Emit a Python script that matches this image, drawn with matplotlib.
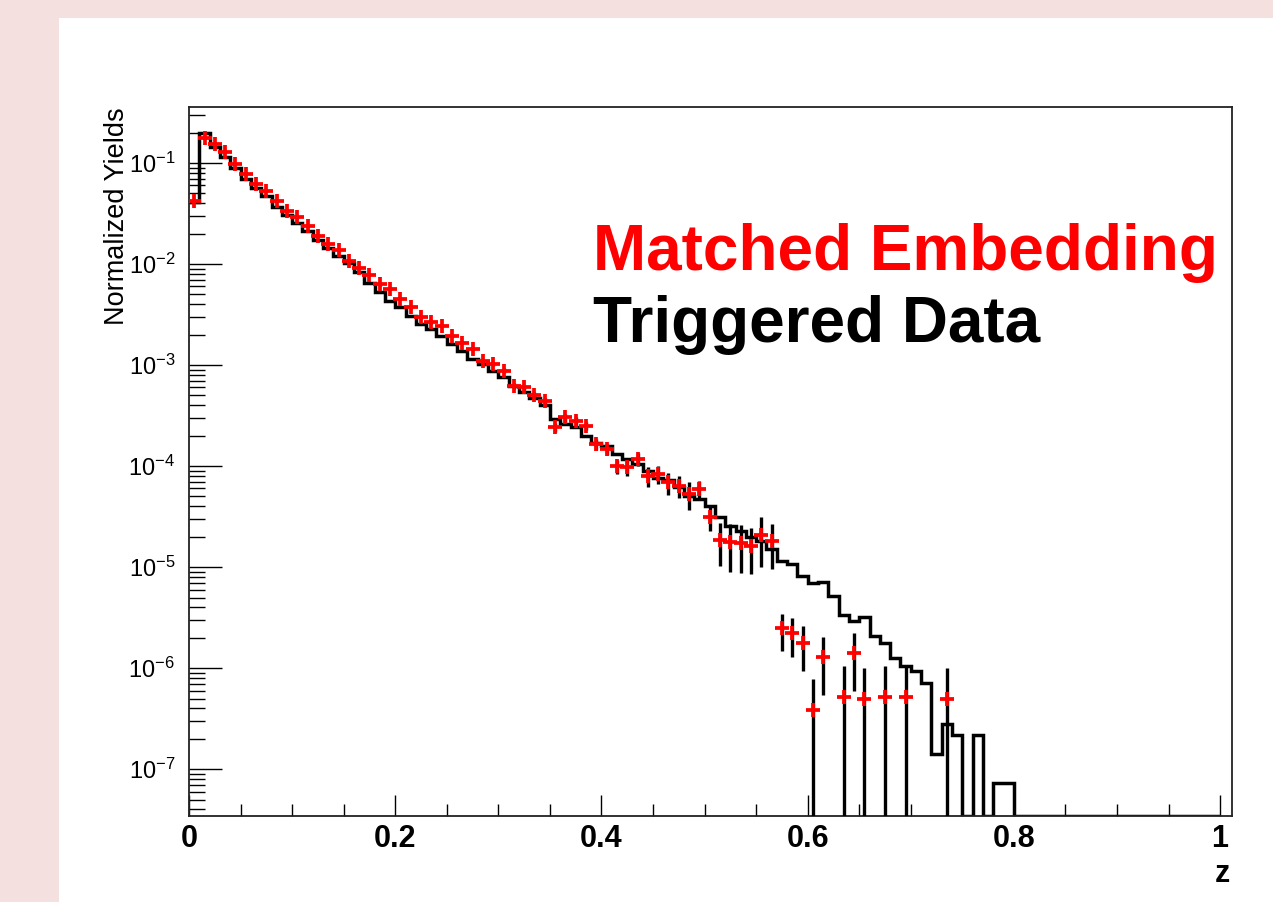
import numpy as np
import matplotlib.pyplot as plt
from matplotlib.patches import Rectangle
from matplotlib.ticker import LogLocator, MultipleLocator, NullFormatter, FixedLocator

plt.rcParams['font.family'] = ['Liberation Sans', 'DejaVu Sans']

# z bins: 100 bins of width 0.01 between 0 and 1
z_edges = np.linspace(0.0, 1.0, 101)

# triggered data histogram (black line), one value per bin, 0 = empty bin
data_yield = [
    4.1e-2, 2.0e-1, 1.43e-1, 1.14e-1, 8.9e-2, 7.0e-2, 5.7e-2, 4.7e-2, 3.7e-2, 3.05e-2,
    2.55e-2, 2.1e-2, 1.74e-2, 1.43e-2, 1.21e-2, 1.02e-2, 8.3e-3, 6.5e-3, 5.25e-3, 4.34e-3,
    3.72e-3, 3.08e-3, 2.55e-3, 2.27e-3, 1.95e-3, 1.61e-3, 1.39e-3, 1.15e-3, 1.02e-3, 8.8e-4,
    7.55e-4, 6.24e-4, 5.36e-4, 4.68e-4, 3.98e-4, 2.92e-4, 2.61e-4, 2.42e-4, 2.0e-4, 1.71e-4,
    1.59e-4, 1.32e-4, 1.17e-4, 1.05e-4, 9.0e-5, 7.7e-5, 7.2e-5, 6.15e-5, 5.08e-5, 4.71e-5,
    4.05e-5, 3.1e-5, 2.56e-5, 2.29e-5, 1.97e-5, 1.82e-5, 1.51e-5, 1.16e-5, 1.07e-5, 8.2e-6,
    6.9e-6, 7.2e-6, 5.2e-6, 3.39e-6, 2.94e-6, 3.24e-6, 2.07e-6, 1.76e-6, 1.26e-6, 1.05e-6,
    9.4e-7, 7.2e-7, 1.4e-7, 2.8e-7, 2.2e-7, 0, 2.2e-7, 0, 7.3e-8, 7.3e-8,
    0, 0, 0, 0, 0, 0, 0, 0, 0, 0,
    0, 0, 0, 0, 0, 0, 0, 0, 0, 0,
]

# matched embedding points (red crosses), bins 0..73, nan = no entry
nan = np.nan
emb_yield = [
    4.24e-2, 1.76e-1, 1.54e-1, 1.28e-1, 9.8e-2, 7.8e-2, 6.2e-2, 5.3e-2, 4.24e-2, 3.37e-2,
    2.9e-2, 2.39e-2, 1.9e-2, 1.58e-2, 1.36e-2, 1.08e-2, 9.2e-3, 7.8e-3, 6.3e-3, 5.65e-3,
    4.5e-3, 3.72e-3, 2.96e-3, 2.64e-3, 2.45e-3, 1.95e-3, 1.67e-3, 1.44e-3, 1.1e-3, 1.02e-3,
    8.8e-4, 6.2e-4, 6.0e-4, 5.1e-4, 4.4e-4, 2.42e-4, 3.03e-4, 2.81e-4, 2.5e-4, 1.65e-4,
    1.47e-4, 1.0e-4, 9.7e-5, 1.17e-4, 8.0e-5, 8.3e-5, 6.9e-5, 6.4e-5, 5.3e-5, 5.9e-5,
    3.1e-5, 1.87e-5, 1.78e-5, 1.75e-5, 1.63e-5, 2.07e-5, 1.82e-5, 2.47e-6, 2.21e-6, 1.78e-6,
    3.9e-7, 1.3e-6, nan, 5.2e-7, 1.41e-6, 5.0e-7, nan, 5.2e-7, nan, 5.2e-7,
    nan, nan, nan, 5.0e-7,
]
# relative errors of the embedding points
emb_relerr = [
    0.03, 0.03, 0.03, 0.03, 0.03, 0.03, 0.03, 0.03, 0.03, 0.03,
    0.03, 0.03, 0.03, 0.03, 0.03, 0.03, 0.03, 0.03, 0.03, 0.03,
    0.03, 0.03, 0.03, 0.03, 0.03, 0.03, 0.03, 0.03, 0.03, 0.04,
    0.05, 0.06, 0.06, 0.07, 0.07, 0.10, 0.09, 0.10, 0.10, 0.12,
    0.13, 0.16, 0.18, 0.15, 0.22, 0.20, 0.25, 0.25, 0.30, 0.22,
    0.27, 0.45, 0.50, 0.50, 0.48, 0.52, 0.47, 0.40, 0.42, 0.47,
    1.0, 0.58, nan, 1.0, 0.58, 1.0, nan, 1.0, nan, 1.0,
    nan, nan, nan, 1.0,
]

x_ticks = [0, 0.2, 0.4, 0.6, 0.8, 1.0]
x_tick_labels = ['0', '0.2', '0.4', '0.6', '0.8', '1']
y_ticks = [1e-7, 1e-6, 1e-5, 1e-4, 1e-3, 1e-2, 1e-1]

ymin, ymax = 3.47e-8, 0.36

fig = plt.figure(figsize=(12.73, 9.02), dpi=100, facecolor='#f5e0e0')
fig.add_artist(Rectangle((59 / 1273, 0), 1, 884 / 902, transform=fig.transFigure,
                         facecolor='white', edgecolor='none', zorder=-1))
ax = fig.add_axes([0.1485, 0.0957, 0.8191, 0.786])
ax.set_yscale('log')

# histogram; empty bins sit on the bottom of the frame like in ROOT
h = np.array(data_yield)
ax.stairs(np.where(h > 0, h, ymin), z_edges, baseline=None,
          color='black', lw=2.5, zorder=2)

centers = 0.5 * (z_edges[:-1] + z_edges[1:])
e = np.array(emb_yield)
r = np.array(emb_relerr)
zc = centers[:len(e)]
ok = ~np.isnan(e)
lo = e * np.minimum(r, 0.999999)
hi = e * r
ax.errorbar(zc[ok], e[ok], yerr=[lo[ok], hi[ok]], fmt='none', ecolor='black',
            elinewidth=2.4, capsize=0, zorder=3)
ax.plot(zc[ok], e[ok], ls='none', marker='+', ms=10, mew=2.7, color='red', zorder=4)

ax.set_xlim(0, 1.0113)
ax.set_ylim(ymin, ymax)

ax.set_xticks(x_ticks, labels=x_tick_labels, fontweight='bold')
ax.xaxis.set_minor_locator(MultipleLocator(0.05))
ax.yaxis.set_major_locator(FixedLocator(y_ticks))
ax.yaxis.set_minor_locator(LogLocator(base=10, subs=np.arange(2, 10), numticks=20))
ax.yaxis.set_minor_formatter(NullFormatter())

ax.tick_params(axis='x', which='major', direction='in', length=15, width=1,
               labelsize=22, pad=6, top=False)
ax.tick_params(axis='x', which='minor', direction='in', length=8.5, width=1, top=False)
ax.tick_params(axis='y', which='major', direction='in', length=23.5, width=1,
               labelsize=17, pad=10, right=False)
ax.tick_params(axis='y', which='minor', direction='in', length=11.5, width=1, right=False)
for s in ax.spines.values():
    s.set_color('#222222')
    s.set_linewidth(1.3)

fig.text(593 / 1273, 1 - 270 / 902, 'Matched Embedding', color='red',
         fontsize=46, fontweight='bold', ha='left', va='baseline')
fig.text(593 / 1273, 1 - 342 / 902, 'Triggered Data', color='black',
         fontsize=46, fontweight='bold', ha='left', va='baseline')
fig.text(117 / 1273, 1 - 107 / 902, 'Normalized Yields', rotation=90,
         ha='center', va='top', fontsize=19.5)
fig.text(1230 / 1273, 1 - 882 / 902, 'z', ha='right', va='baseline',
         fontsize=22, fontweight='bold')

fig.savefig('out.png', dpi=100, facecolor=fig.get_facecolor())
